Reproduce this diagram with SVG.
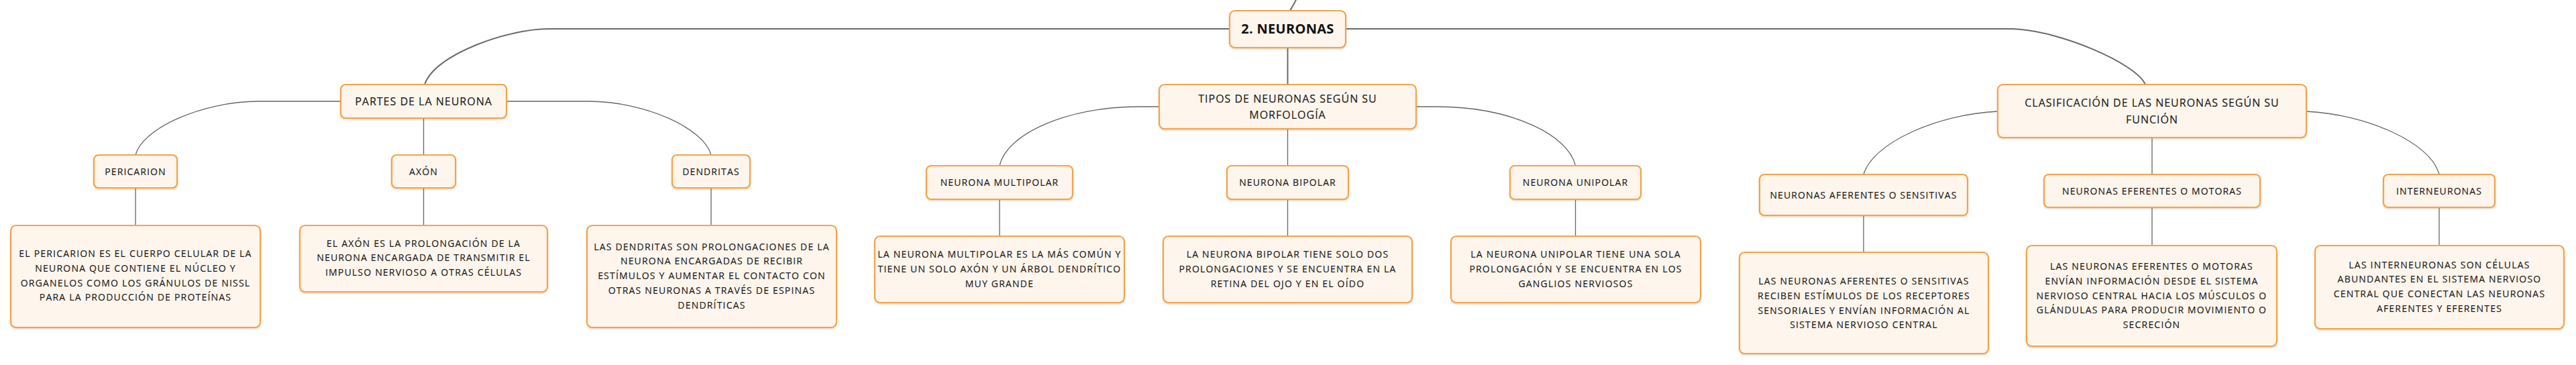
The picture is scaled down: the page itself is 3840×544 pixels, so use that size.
<svg xmlns="http://www.w3.org/2000/svg" width="3840" height="544" viewBox="0 0 3840 544">
<defs>
<filter id="sh" x="-5%" y="-10%" width="110%" height="130%">
<feDropShadow dx="0" dy="1.5" stdDeviation="1.2" flood-color="#b07030" flood-opacity="0.3"/>
</filter>
</defs>
<style>
.box{fill:#FEF5EC;stroke:#F2A44C;stroke-width:2.2;filter:url(#sh)}
text{font-family:"Open Sans","Liberation Sans",sans-serif;fill:#1a1a1a;text-anchor:middle;stroke:#1a1a1a;stroke-width:0.15px}
.root{font-size:20px;font-weight:bold;fill:#111;stroke:none;letter-spacing:0.3px}
.l1{font-size:16px;letter-spacing:1px}
.l2{font-size:14px;letter-spacing:1.1px}
.d{font-size:14px;letter-spacing:1.2px}
.c0{fill:none;stroke:#6a6a6a;stroke-width:2}
.c1{fill:none;stroke:#666666;stroke-width:1.3}
</style>
<rect width="3840" height="544" fill="#ffffff"/>
<g id="connectors">
<path class="c0" d="M1923,16 L1932,0"/>
<path class="c0" d="M1833,43 L817,43 C760,43 648,80 633,126"/>
<path class="c0" d="M2006,43 L3000,43 C3070,45 3185,95 3198,126"/>
<path class="c0" d="M1919.5,71 L1919.5,126"/>
<path class="c1" d="M508,151 L386,151 C300,151 212,192 202,231"/>
<path class="c1" d="M755,151 L877,151 C963,151 1050,192 1060,231"/>
<path class="c1" d="M631.5,176 L631.5,231"/>
<path class="c1" d="M202,280 L202,336"/>
<path class="c1" d="M631.5,280 L631.5,336"/>
<path class="c1" d="M1060,280 L1060,336"/>
<path class="c1" d="M1728,159 L1697,159 C1590,159 1500,200 1490,247"/>
<path class="c1" d="M2111,159 L2142,159 C2250,159 2338,200 2348.5,247"/>
<path class="c1" d="M1919.5,192 L1919.5,247"/>
<path class="c1" d="M1490,297 L1490,352"/>
<path class="c1" d="M1919.5,297 L1919.5,352"/>
<path class="c1" d="M2348.5,297 L2348.5,352"/>
<path class="c1" d="M2978,166 C2890,170 2792,212 2778,260"/>
<path class="c1" d="M3438,166 C3526,170 3624,212 3636,260"/>
<path class="c1" d="M3208,205 L3208,260"/>
<path class="c1" d="M2778,321 L2778,376"/>
<path class="c1" d="M3208,309 L3208,366"/>
<path class="c1" d="M3636,309 L3636,366"/>
</g>
<g id="n-root"><rect class="box" x="1833" y="16" width="173" height="55" rx="8"/><text class="root" x="1919.5" y="50">2. NEURONAS</text></g>
<g id="n-partes"><rect class="box" x="508" y="126" width="247" height="50" rx="7"/><text class="l1" x="631.5" y="157">PARTES DE LA NEURONA</text></g>
<g id="n-pericarion"><rect class="box" x="140" y="231" width="124" height="49" rx="7"/><text class="l2" x="202" y="261">PERICARION</text></g>
<g id="n-axon"><rect class="box" x="584" y="231" width="95" height="49" rx="7"/><text class="l2" x="631.5" y="261">AXÓN</text></g>
<g id="n-dendritas"><rect class="box" x="1002" y="231" width="116" height="49" rx="7"/><text class="l2" x="1060" y="261">DENDRITAS</text></g>
<g id="d-pericarion"><rect class="box" x="16" y="336" width="372" height="152" rx="8"/>
<text class="d" x="202" y="383">EL PERICARION ES EL CUERPO CELULAR DE LA</text>
<text class="d" x="202" y="405">NEURONA QUE CONTIENE EL NÚCLEO Y</text>
<text class="d" x="202" y="427">ORGANELOS COMO LOS GRÁNULOS DE NISSL</text>
<text class="d" x="202" y="448">PARA LA PRODUCCIÓN DE PROTEÍNAS</text></g>
<g id="d-axon"><rect class="box" x="447" y="336" width="369" height="99" rx="8"/>
<text class="d" x="631.5" y="368">EL AXÓN ES LA PROLONGACIÓN DE LA</text>
<text class="d" x="631.5" y="389">NEURONA ENCARGADA DE TRANSMITIR EL</text>
<text class="d" x="631.5" y="411">IMPULSO NERVIOSO A OTRAS CÉLULAS</text></g>
<g id="d-dendritas"><rect class="box" x="875" y="336" width="372" height="152" rx="8"/>
<text class="d" x="1061" y="373">LAS DENDRITAS SON PROLONGACIONES DE LA</text>
<text class="d" x="1061" y="394">NEURONA ENCARGADAS DE RECIBIR</text>
<text class="d" x="1061" y="416">ESTÍMULOS Y AUMENTAR EL CONTACTO CON</text>
<text class="d" x="1061" y="438">OTRAS NEURONAS A TRAVÉS DE ESPINAS</text>
<text class="d" x="1061" y="460">DENDRÍTICAS</text></g>
<g id="n-tipos"><rect class="box" x="1728" y="126" width="383" height="66" rx="8"/>
<text class="l1" x="1919.5" y="153">TIPOS DE NEURONAS SEGÚN SU</text>
<text class="l1" x="1919.5" y="177">MORFOLOGÍA</text></g>
<g id="n-multipolar"><rect class="box" x="1381" y="247" width="218" height="50" rx="7"/><text class="l2" x="1490" y="277">NEURONA MULTIPOLAR</text></g>
<g id="n-bipolar"><rect class="box" x="1829" y="247" width="181" height="50" rx="7"/><text class="l2" x="1919.5" y="277">NEURONA BIPOLAR</text></g>
<g id="n-unipolar"><rect class="box" x="2251" y="247" width="195" height="50" rx="7"/><text class="l2" x="2348.5" y="277">NEURONA UNIPOLAR</text></g>
<g id="d-multipolar"><rect class="box" x="1304" y="352" width="372" height="99" rx="8"/>
<text class="d" x="1490" y="384">LA NEURONA MULTIPOLAR ES LA MÁS COMÚN Y</text>
<text class="d" x="1490" y="406">TIENE UN SOLO AXÓN Y UN ÁRBOL DENDRÍTICO</text>
<text class="d" x="1490" y="428">MUY GRANDE</text></g>
<g id="d-bipolar"><rect class="box" x="1734" y="352" width="371" height="99" rx="8"/>
<text class="d" x="1919.5" y="384">LA NEURONA BIPOLAR TIENE SOLO DOS</text>
<text class="d" x="1919.5" y="406">PROLONGACIONES Y SE ENCUENTRA EN LA</text>
<text class="d" x="1919.5" y="428">RETINA DEL OJO Y EN EL OÍDO</text></g>
<g id="d-unipolar"><rect class="box" x="2163" y="352" width="372" height="99" rx="8"/>
<text class="d" x="2349" y="384">LA NEURONA UNIPOLAR TIENE UNA SOLA</text>
<text class="d" x="2349" y="406">PROLONGACIÓN Y SE ENCUENTRA EN LOS</text>
<text class="d" x="2349" y="428">GANGLIOS NERVIOSOS</text></g>
<g id="n-clasificacion"><rect class="box" x="2978" y="126" width="460" height="79" rx="8"/>
<text class="l1" x="3208" y="159">CLASIFICACIÓN DE LAS NEURONAS SEGÚN SU</text>
<text class="l1" x="3208" y="184">FUNCIÓN</text></g>
<g id="n-aferentes"><rect class="box" x="2623" y="260" width="310" height="61" rx="7"/><text class="l2" x="2778" y="296">NEURONAS AFERENTES O SENSITIVAS</text></g>
<g id="n-eferentes"><rect class="box" x="3047" y="260" width="322" height="49" rx="7"/><text class="l2" x="3208" y="290">NEURONAS EFERENTES O MOTORAS</text></g>
<g id="n-inter"><rect class="box" x="3553" y="260" width="166" height="49" rx="7"/><text class="l2" x="3636" y="290">INTERNEURONAS</text></g>
<g id="d-aferentes"><rect class="box" x="2593" y="376" width="371" height="151" rx="8"/>
<text class="d" x="2778.5" y="424">LAS NEURONAS AFERENTES O SENSITIVAS</text>
<text class="d" x="2778.5" y="446">RECIBEN ESTÍMULOS DE LOS RECEPTORES</text>
<text class="d" x="2778.5" y="468">SENSORIALES Y ENVÍAN INFORMACIÓN AL</text>
<text class="d" x="2778.5" y="489">SISTEMA NERVIOSO CENTRAL</text></g>
<g id="d-eferentes"><rect class="box" x="3021" y="366" width="373" height="150" rx="8"/>
<text class="d" x="3207.5" y="402">LAS NEURONAS EFERENTES O MOTORAS</text>
<text class="d" x="3207.5" y="424">ENVÍAN INFORMACIÓN DESDE EL SISTEMA</text>
<text class="d" x="3207.5" y="446">NERVIOSO CENTRAL HACIA LOS MÚSCULOS O</text>
<text class="d" x="3207.5" y="467">GLÁNDULAS PARA PRODUCIR MOVIMIENTO O</text>
<text class="d" x="3207.5" y="489">SECRECIÓN</text></g>
<g id="d-inter"><rect class="box" x="3451" y="366" width="371" height="124" rx="8"/>
<text class="d" x="3636.5" y="400">LAS INTERNEURONAS SON CÉLULAS</text>
<text class="d" x="3636.5" y="421">ABUNDANTES EN EL SISTEMA NERVIOSO</text>
<text class="d" x="3636.5" y="443">CENTRAL QUE CONECTAN LAS NEURONAS</text>
<text class="d" x="3636.5" y="465">AFERENTES Y EFERENTES</text></g>
</svg>
